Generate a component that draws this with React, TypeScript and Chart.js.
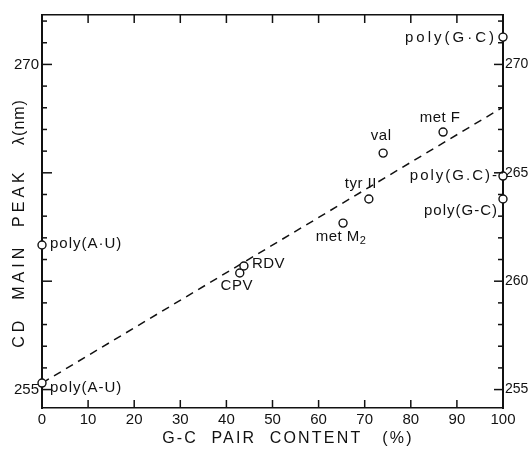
import { useEffect, useRef } from "react";
import { Chart, registerables } from "chart.js";

Chart.register(...registerables);

// G-C pair content (%) of each sample
const gcContent = [0, 0, 42.9, 43.8, 65.3, 70.9, 74.0, 87.0, 100, 100, 100];
// CD main peak wavelength (nm)
const peakNm = [255.3, 261.67, 260.38, 260.7, 262.68, 263.79, 265.91, 266.88, 263.79, 264.85, 271.26];
const sampleNames = ["poly(A-U)", "poly(A·U)", "CPV", "RDV", "met M", "tyr II", "val", "met F", "poly(G-C)", "poly(G.C)-", "poly(G·C)"];
const nameSubscripts = ["", "", "", "", "2", "", "", "", "", "", ""];

// least-squares line through the tRNA / virus RNA points
const fitGc = [0, 100];
const fitNm = [255.3, 268.03];

const xTickValues = [0, 10, 20, 30, 40, 50, 60, 70, 80, 90, 100];
const yTickValues = [255, 260, 265, 270];
const leftLabelled = [255, 270];
const yMin = 254.15;
const yMax = 272.28;

const xTitle = "G-C  PAIR  CONTENT   (%)";
const yTitleMain = "CD  MAIN  PEAK";
const yTitleUnit = "λ(nm)";

// where each sample name sits relative to its marker
const labelPlacement = [
  { dx: 8, dy: 5, align: "left", spacing: 1 },
  { dx: 8, dy: -1, align: "left", spacing: 1 },
  { dx: -3, dy: 13, align: "center", spacing: 0.5 },
  { dx: 8, dy: -2, align: "left", spacing: 0.5 },
  { dx: -2, dy: 14, align: "center", spacing: 0.5 },
  { dx: -8, dy: -15, align: "center", spacing: 0.5 },
  { dx: -2, dy: -17, align: "center", spacing: 0.5 },
  { dx: -3, dy: -14, align: "center", spacing: 0.5 },
  { dx: -5, dy: 12, align: "right", spacing: 1 },
  { dx: -4, dy: 0, align: "right", spacing: 2 },
  { dx: -6, dy: 1, align: "right", spacing: 3 },
];

const FONT = "'Liberation Sans', Arial, sans-serif";
const INK = "#111";

const decorations = {
  id: "decorations",
  afterDraw(chart: any) {
    const { ctx, chartArea: a, scales } = chart;
    const xs = scales.x;
    const ys = scales.y;
    ctx.save();
    ctx.strokeStyle = INK;
    ctx.fillStyle = INK;
    ctx.lineWidth = 1.5;
    const seg = (x1: number, y1: number, x2: number, y2: number) => {
      ctx.beginPath();
      ctx.moveTo(x1, y1);
      ctx.lineTo(x2, y2);
      ctx.stroke();
    };
    // inward tick marks on the top and bottom frame
    for (const v of xTickValues) {
      if (v === 0 || v === 100) continue;
      const px = xs.getPixelForValue(v);
      seg(px, a.bottom, px, a.bottom - 8);
      seg(px, a.top, px, a.top + 8);
    }
    // 1 nm ticks on both wavelength axes, longer every 5 nm
    for (let v = Math.ceil(yMin); v <= yMax; v++) {
      const py = ys.getPixelForValue(v);
      const major = v % 5 === 0;
      seg(a.left, py, a.left + (major ? 10 : 5), py);
      seg(a.right, py, a.right - (major ? 9 : 5), py);
    }

    // sample names beside the markers
    ctx.textBaseline = "middle";
    sampleNames.forEach((name, i) => {
      const p = labelPlacement[i];
      const px = xs.getPixelForValue(gcContent[i]) + p.dx;
      const py = ys.getPixelForValue(peakNm[i]) + p.dy;
      ctx.font = `15px ${FONT}`;
      (ctx as any).letterSpacing = `${p.spacing}px`;
      const sub = nameSubscripts[i];
      if (sub) {
        const w = ctx.measureText(name).width;
        ctx.font = `11px ${FONT}`;
        const ws = ctx.measureText(sub).width;
        const total = w + ws;
        let x0 = px;
        if (p.align === "center") x0 = px - total / 2;
        else if (p.align === "right") x0 = px - total;
        ctx.textAlign = "left";
        ctx.font = `15px ${FONT}`;
        ctx.fillText(name, x0, py);
        ctx.font = `11px ${FONT}`;
        ctx.fillText(sub, x0 + w, py + 4);
      } else {
        ctx.textAlign = p.align;
        ctx.fillText(name, px, py);
      }
    });

    // axis titles
    ctx.font = `16px ${FONT}`;
    (ctx as any).letterSpacing = "2.2px";
    ctx.textAlign = "center";
    ctx.fillText(xTitle, 288, 439);

    ctx.translate(20, 0);
    ctx.rotate(-Math.PI / 2);
    (ctx as any).letterSpacing = "4px";
    ctx.fillText(yTitleMain, -258, 0);
    (ctx as any).letterSpacing = "1px";
    ctx.fillText(yTitleUnit, -122, 0);
    ctx.restore();
  },
};

export default function App() {
  const canvasRef = useRef<HTMLCanvasElement | null>(null);

  useEffect(() => {
    const canvas = canvasRef.current;
    if (!canvas) return;
    const tickFont = { family: FONT, size: 15 };
    const rightFont = { family: FONT, size: 14 };
    const chart = new Chart(canvas, {
      type: "scatter",
      data: {
        datasets: [
          {
            type: "line",
            data: fitGc.map((x, i) => ({ x, y: fitNm[i] })),
            borderColor: INK,
            borderWidth: 1.5,
            borderDash: [8, 6],
            pointRadius: 0,
            fill: false,
            order: 2,
          },
          {
            data: gcContent.map((x, i) => ({ x, y: peakNm[i] })),
            pointRadius: 4,
            pointHoverRadius: 4,
            pointBorderWidth: 1.4,
            borderColor: INK,
            backgroundColor: "#fff",
            pointBackgroundColor: "#fff",
            pointBorderColor: INK,
            clip: false,
            order: 1,
          },
        ],
      } as any,
      options: {
        animation: false,
        responsive: false,
        events: [],
        layout: { padding: 0 },
        plugins: { legend: { display: false }, tooltip: { enabled: false } },
        scales: {
          x: {
            type: "linear",
            position: "bottom",
            min: 0,
            max: 100,
            afterBuildTicks: (s: any) => {
              s.ticks = xTickValues.map((value) => ({ value }));
            },
            afterFit: (s: any) => {
              s.height = 42;
            },
            grid: { display: false, drawTicks: false },
            border: { display: true, color: INK, width: 1.6 },
            ticks: { color: INK, font: tickFont, padding: 3, maxRotation: 0, autoSkip: false },
          },
          xTop: {
            type: "linear",
            position: "top",
            min: 0,
            max: 100,
            afterFit: (s: any) => {
              s.height = 15;
            },
            grid: { display: false, drawTicks: false },
            border: { display: true, color: INK, width: 1.6 },
            ticks: { display: false },
          },
          y: {
            type: "linear",
            position: "left",
            min: yMin,
            max: yMax,
            afterBuildTicks: (s: any) => {
              s.ticks = yTickValues.map((value) => ({ value }));
            },
            afterFit: (s: any) => {
              s.width = 42;
            },
            grid: { display: false, drawTicks: false },
            border: { display: true, color: INK, width: 2 },
            ticks: {
              color: INK,
              font: tickFont,
              padding: 3,
              autoSkip: false,
              callback: (v: any) => (leftLabelled.includes(Number(v)) ? String(v) : ""),
            },
          },
          yRight: {
            type: "linear",
            position: "right",
            min: yMin,
            max: yMax,
            afterBuildTicks: (s: any) => {
              s.ticks = yTickValues.map((value) => ({ value }));
            },
            afterFit: (s: any) => {
              s.width = 28;
            },
            grid: { display: false, drawTicks: false },
            border: { display: true, color: INK, width: 2 },
            ticks: { color: INK, font: rightFont, padding: 2, autoSkip: false },
          },
        },
      } as any,
      plugins: [decorations as any],
    });
    return () => chart.destroy();
  }, []);

  return (
    <div style={{ position: "fixed", left: 0, top: 0, width: 531, height: 450, background: "#fff" }}>
      <canvas ref={canvasRef} width={531} height={450} />
    </div>
  );
}
